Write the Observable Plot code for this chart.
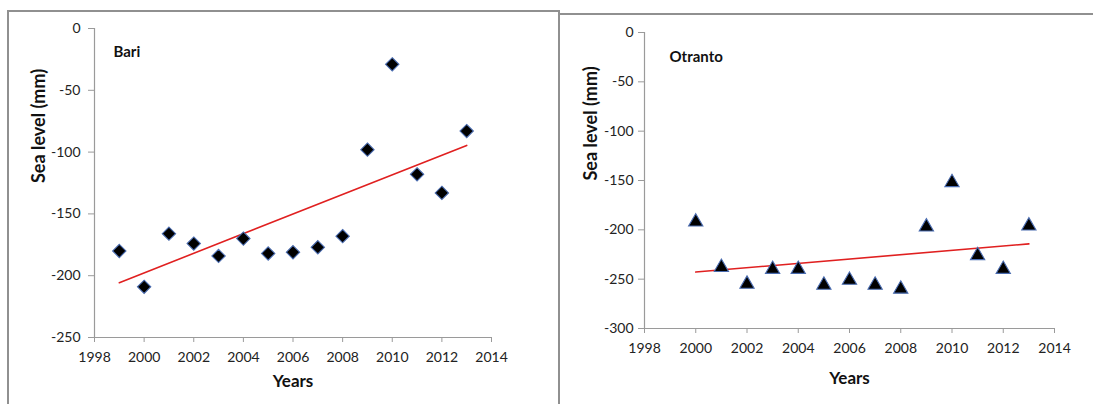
<!DOCTYPE html>
<html>
<head>
<meta charset="utf-8">
<script src="https://cdn.jsdelivr.net/npm/d3@7"></script>
<script src="https://cdn.jsdelivr.net/npm/@observablehq/plot@0.6"></script>
<style>
  html, body { margin: 0; padding: 0; background: #fff; }
  #wrap { position: relative; width: 1093px; height: 404px; overflow: hidden; font-family: Lato, sans-serif; }
  .frame1 { position: absolute; left: 7px; top: 10px; width: 549px; height: 420px;
            border-top: 2px solid #909090; border-left: 2px solid #909090; border-right: 2px solid #909090; }
  .frame2 { position: absolute; left: 560px; top: 13px; width: 540px; height: 0;
            border-top: 2px solid #909090; }
  .panel { position: absolute; top: 0; }
  .panel g[aria-label$="axis"] line, .panel g[aria-label$="axis"] path { stroke: #9a9a9a; }
  .panel g[aria-label$="axis"] text { fill: #222; }
</style>
</head>
<body>
<div id="wrap">
  <div class="frame1"></div>
  <div class="frame2"></div>
  <div id="p1" class="panel" style="left:0px"></div>
  <div id="p2" class="panel" style="left:559px"></div>
</div>
<script>
// ---- data ----
const bariYears = [1999, 2000, 2001, 2002, 2003, 2004, 2005, 2006, 2007, 2008, 2009, 2010, 2011, 2012, 2013];
const bariLevels = [-180, -209, -166, -174, -184, -170, -182, -181, -177, -168, -98, -29, -118, -133, -83];
const otrantoYears = [2000, 2001, 2002, 2003, 2004, 2005, 2006, 2007, 2008, 2009, 2010, 2011, 2012, 2013];
const otrantoLevels = [-192, -238, -255, -240, -240, -256, -251, -256, -260, -197, -152, -226, -240, -196];
const xTicks = [1998, 2000, 2002, 2004, 2006, 2008, 2010, 2012, 2014];
const bariYTicks = [-250, -200, -150, -100, -50, 0];
const otrantoYTicks = [-300, -250, -200, -150, -100, -50, 0];
const xLabel = "Years";
const yLabel = "Sea level (mm)";

const bari = bariYears.map((year, i) => ({year, level: bariLevels[i]}));
const otranto = otrantoYears.map((year, i) => ({year, level: otrantoLevels[i]}));

const hasAxisMarks = typeof Plot.axisY === "function";

function panel({data, title, yTicks, yDomain, symbol, r, width, height, margins, tickPadY, yLabDx, xLabDy, titleDx, titleDy}) {
  const fmt = d => String(d);
  const axisMarks = hasAxisMarks ? [
    Plot.axisY(yTicks, {stroke: "#9a9a9a", fill: "#222", tickSize: 6, tickPadding: tickPadY, tickFormat: fmt, label: null, fontSize: 14}),
    Plot.axisX(xTicks, {stroke: "#9a9a9a", fill: "#222", tickSize: 5, tickPadding: 10, tickFormat: fmt, label: null, fontSize: 14})
  ] : [];
  return Plot.plot({
    width, height,
    marginLeft: margins[0], marginRight: margins[1], marginTop: margins[2], marginBottom: margins[3],
    style: {fontFamily: "Lato, sans-serif", fontSize: "14px", background: "transparent", overflow: "visible", color: "#222"},
    x: hasAxisMarks ? {domain: [1998, 2014], label: null}
                    : {domain: [1998, 2014], label: null, ticks: xTicks, tickSize: 5, tickPadding: 10, tickFormat: fmt},
    y: hasAxisMarks ? {domain: yDomain, label: null}
                    : {domain: yDomain, label: null, ticks: yTicks, tickSize: 6, tickPadding: tickPadY, tickFormat: fmt},
    marks: [
      Plot.ruleX([1998], {stroke: "#9a9a9a", strokeWidth: 1.2}),
      Plot.ruleY([yDomain[0]], {stroke: "#9a9a9a", strokeWidth: 1.2}),
      ...axisMarks,
      Plot.linearRegressionY(data, {x: "year", y: "level", stroke: "#e02020", strokeWidth: 1.6, ci: 0}),
      Plot.dot(data, {x: "year", y: "level", symbol, r, fill: "#000", stroke: "#4a6cb0", strokeWidth: 1.1}),
      Plot.text([title], {frameAnchor: "top-left", dx: titleDx, dy: titleDy, textAnchor: "start", lineAnchor: "middle", fontSize: 15, fontWeight: "bold", fill: "#111"}),
      Plot.text([xLabel], {frameAnchor: "bottom", dy: xLabDy, lineAnchor: "middle", fontSize: 17, fontWeight: "bold", fill: "#111"}),
      Plot.text([yLabel], {frameAnchor: "left", dx: yLabDx, rotate: -90, lineAnchor: "middle", fontSize: 18, fontWeight: "bold", fill: "#111"})
    ]
  });
}

document.getElementById("p1").appendChild(panel({
  data: bari, title: "Bari", yTicks: bariYTicks, yDomain: [-250, 0], symbol: "diamond2", r: 6,
  width: 558, height: 404, margins: [94, 67, 28, 67], tickPadY: 8, yLabDx: -55, xLabDy: 44, titleDx: 19, titleDy: 24
}));
document.getElementById("p2").appendChild(panel({
  data: otranto, title: "Otranto", yTicks: otrantoYTicks, yDomain: [-300, 0], symbol: "triangle", r: 5.3,
  width: 534, height: 404, margins: [85, 39, 32, 76], tickPadY: 5, yLabDx: -53, xLabDy: 50, titleDx: 25, titleDy: 25
}));
</script>
</body>
</html>
